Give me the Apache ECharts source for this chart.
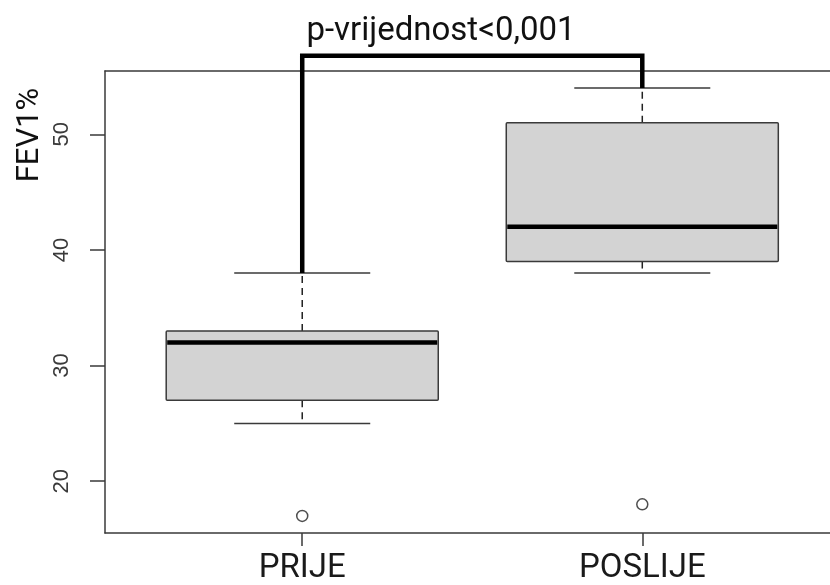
<!DOCTYPE html>
<html>
<head>
<meta charset="utf-8">
<script src="https://cdn.jsdelivr.net/npm/echarts@6/dist/echarts.min.js"></script>
<style>html,body{margin:0;padding:0;background:#fff;}#c{width:830px;height:585px;}</style>
</head>
<body>
<div id="c"></div>
<script>
const categories = ['PRIJE', 'POSLIJE'];
const whiskerLow = [25, 38];
const quartile1 = [27, 39];
const medians = [32, 42];
const quartile3 = [33, 51];
const whiskerHigh = [38, 54];
const outlierValues = [17, 18];
const yTicks = [20, 30, 40, 50];
const yRange = [15.52, 55.48];
const xRange = [0.42, 2.552];
const pText = 'p-vrijednost<0,001';
const bracketTop = 56.8;
const yTitle = 'FEV1%';

const boxData = categories.map((c, i) => [i + 1, whiskerLow[i], quartile1[i], medians[i], quartile3[i], whiskerHigh[i]]);
const outlierData = categories.map((c, i) => [i + 1, outlierValues[i]]);
const bracketData = [[1, whiskerHigh[0], 2, whiskerHigh[1], bracketTop]];

const chart = echarts.init(document.getElementById('c'));
const edge = '#3a3a3a';

function renderBox(params, api) {
  const x = api.value(0);
  const pMin = api.coord([x, api.value(1)]);
  const pQ1 = api.coord([x, api.value(2)]);
  const pMed = api.coord([x, api.value(3)]);
  const pQ3 = api.coord([x, api.value(4)]);
  const pMax = api.coord([x, api.value(5)]);
  const bw = api.size([0.8, 0])[0];
  const sw = bw / 2;
  const cx = pMed[0];
  const thin = { stroke: edge, lineWidth: 1.5, fill: null };
  const dashed = { stroke: '#222', lineWidth: 1.5, lineDash: [7, 5], fill: null };
  return {
    type: 'group',
    children: [
      { type: 'line', shape: { x1: cx, y1: pQ3[1], x2: cx, y2: pMax[1] }, style: dashed },
      { type: 'line', shape: { x1: cx, y1: pQ1[1], x2: cx, y2: pMin[1] }, style: dashed },
      { type: 'line', shape: { x1: cx - sw / 2, y1: pMax[1], x2: cx + sw / 2, y2: pMax[1] }, style: thin },
      { type: 'line', shape: { x1: cx - sw / 2, y1: pMin[1], x2: cx + sw / 2, y2: pMin[1] }, style: thin },
      { type: 'rect', shape: { x: cx - bw / 2, y: pQ3[1], width: bw, height: pQ1[1] - pQ3[1], r: 1 },
        style: { fill: '#d3d3d3', stroke: edge, lineWidth: 1.5 } },
      { type: 'line', shape: { x1: cx - bw / 2 + 1, y1: pMed[1], x2: cx + bw / 2 - 1, y2: pMed[1] },
        style: { stroke: '#000', lineWidth: 4.5 } }
    ]
  };
}

function renderBracket(params, api) {
  const a = api.coord([api.value(0), api.value(1)]);
  const b = api.coord([api.value(2), api.value(3)]);
  const t = api.coord([api.value(0), api.value(4)]);
  return {
    type: 'polyline',
    shape: { points: [[a[0], a[1]], [a[0], t[1]], [b[0], t[1]], [b[0], b[1]]] },
    style: { stroke: '#000', lineWidth: 4.5, fill: null, lineJoin: 'miter' }
  };
}

const frameLine = { show: true, onZero: false, lineStyle: { color: edge, width: 1.5 } };

chart.setOption({
  backgroundColor: '#fff',
  animation: false,
  grid: { left: 105, top: 71, right: 0, height: 464 },
  xAxis: [{
    type: 'value', min: xRange[0], max: xRange[1], position: 'bottom',
    axisLine: frameLine,
    splitLine: { show: false },
    axisTick: { show: true, customValues: [1, 2], length: 13, lineStyle: { color: edge, width: 1.5 } },
    axisLabel: {
      customValues: [1, 2], margin: 19,
      formatter: v => categories[Math.round(v) - 1],
      fontFamily: 'Roboto', fontSize: 33, color: '#1a1a1a'
    }
  }, {
    type: 'value', min: xRange[0], max: xRange[1], position: 'top',
    axisLine: frameLine, axisTick: { show: false }, axisLabel: { show: false }, splitLine: { show: false }
  }],
  yAxis: {
    type: 'value', min: yRange[0], max: yRange[1],
    axisLine: frameLine,
    splitLine: { show: false },
    axisTick: { show: true, customValues: yTicks, length: 15, lineStyle: { color: edge, width: 1.5 } },
    axisLabel: {
      customValues: yTicks, rotate: 90, margin: 32,
      fontFamily: 'Liberation Sans', fontSize: 22, color: '#3a3a3a'
    }
  },
  graphic: [
    { type: 'text', x: 441, y: 32, style: { text: pText, fontFamily: 'Roboto', fontSize: 33, fill: '#111', textAlign: 'center', textVerticalAlign: 'middle' } },
    { type: 'text', x: 30, y: 135, rotation: Math.PI / 2, style: { text: yTitle, fontFamily: 'Roboto', fontSize: 31, fill: '#111', textAlign: 'center', textVerticalAlign: 'middle' } }
  ],
  series: [
    { type: 'custom', renderItem: renderBox, data: boxData, clip: false, encode: { x: 0, y: [1, 2, 3, 4, 5] }, z: 2 },
    { type: 'custom', renderItem: renderBracket, data: bracketData, clip: false, encode: { x: [0, 2], y: [1, 3, 4] }, z: 3 },
    { type: 'scatter', data: outlierData, symbol: 'circle', symbolSize: 11,
      itemStyle: { color: '#fff', borderColor: '#222', borderWidth: 1.5 }, z: 3 }
  ]
});
</script>
</body>
</html>
